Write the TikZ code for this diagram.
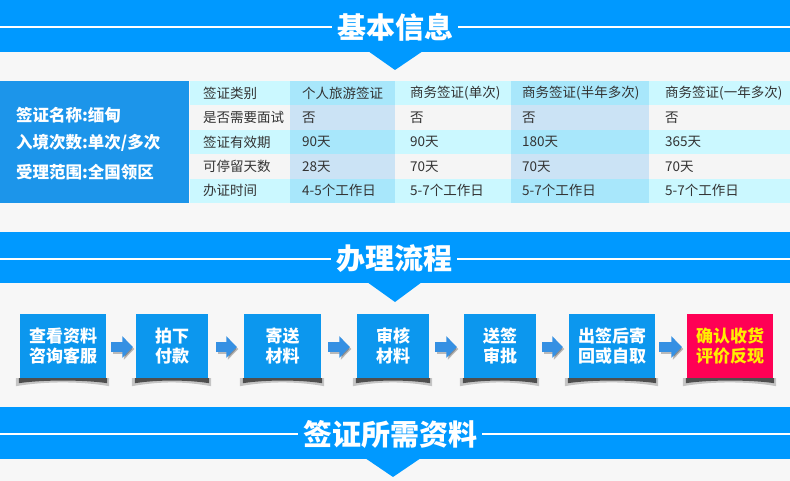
\documentclass[tikz,border=0pt]{standalone}
\usepackage{fontspec}
\setmainfont{Noto Sans CJK SC}
\usetikzlibrary{arrows.meta}
\definecolor{bg}{HTML}{F7F7F7}
\definecolor{banner}{HTML}{0099FF}
\definecolor{panel}{HTML}{1C95EA}
\definecolor{rowcyan}{HTML}{CBF8FF}
\definecolor{rowcyanhl}{HTML}{A8E7FB}
\definecolor{rowgray}{HTML}{F5F5F5}
\definecolor{rowgrayhl}{HTML}{CBE3F5}
\definecolor{boxblue}{HTML}{0C97EE}
\definecolor{boxred}{HTML}{FF0055}
\definecolor{txtyellow}{HTML}{FFEE00}
\definecolor{arrowblue}{HTML}{3590E3}
\definecolor{txtgray}{HTML}{333333}
\tikzset{
  titlenode/.style={fill=banner, text=white, inner xsep=5pt, inner ysep=1pt,
    font=\fontsize{29}{29}\selectfont\bfseries},
  whiteline/.style={white, line width=2pt},
  cell/.style={anchor=west, inner sep=0pt, text=txtgray, font=\fontsize{13.5}{14}\selectfont},
  paneltext/.style={anchor=west, inner sep=0pt, text=white, font=\fontsize{16.5}{17}\selectfont\bfseries},
  pbox/.style={fill=boxblue, text=white, align=center, inner sep=0pt, minimum height=64pt,
    font=\fontsize{17}{20}\selectfont\bfseries},
  redbox/.style={pbox, fill=boxred, text=txtyellow},
  flow/.style={arrowblue, line width=9.5pt, -{Triangle[length=10.5pt,width=21pt]}},
  flowshadow/.style={black, opacity=0.25, line width=9.5pt, -{Triangle[length=10.5pt,width=21pt]},
    transform canvas={xshift=1.5pt,yshift=-2pt}},
}
\begin{document}
\begin{tikzpicture}[x=1pt,y=-1pt]
\fill[bg] (0,0) rectangle (790,481);
\useasboundingbox (0,0) rectangle (790,481);

% ---------- banner 1 ----------
\fill[banner] (0,0) rectangle (790,52);
\fill[banner] (368,51) -- (423,51) -- (395,70) -- cycle;
\draw[whiteline] (0,26.7) -- (790,26.7);
\node[titlenode] (t1) at (395,27) {基本信息};

% ---------- left panel ----------
\fill[panel] (0,81) rectangle (189,203);
\node[paneltext] (p1) at (16,115) {签证名称:缅甸};
\node[paneltext] (p2) at (16,143) {入境次数:单次/多次};
\node[paneltext] (p3) at (16,172) {受理范围:全国领区};

% ---------- table ----------
\foreach \k in {0,2,4} {
  \fill[rowcyan] (190,{81+24.4*\k}) rectangle (790,{81+24.4*(\k+1)});
  \fill[rowcyanhl] (290,{81+24.4*\k}) rectangle (395,{81+24.4*(\k+1)});
  \fill[rowcyanhl] (511,{81+24.4*\k}) rectangle (649,{81+24.4*(\k+1)});
}
\foreach \k in {1,3} {
  \fill[rowgray] (190,{81+24.4*\k}) rectangle (790,{81+24.4*(\k+1)});
  \fill[rowgrayhl] (290,{81+24.4*\k}) rectangle (395,{81+24.4*(\k+1)});
  \fill[rowgrayhl] (511,{81+24.4*\k}) rectangle (649,{81+24.4*(\k+1)});
}
\foreach \k/\a/\b/\c/\d/\e in {
  0/签证类别/个人旅游签证/商务签证(单次)/商务签证(半年多次)/商务签证(一年多次),
  1/是否需要面试/否/否/否/否,
  2/签证有效期/90天/90天/180天/365天,
  3/可停留天数/28天/70天/70天/70天,
  4/办证时间/4-5个工作日/5-7个工作日/5-7个工作日/5-7个工作日} {
  \node[cell] (c\k-1) at (203,{93.2+24.4*\k}) {\a};
  \node[cell] (c\k-2) at (302,{93.2+24.4*\k}) {\b};
  \node[cell] (c\k-3) at (410,{93.2+24.4*\k}) {\c};
  \node[cell] (c\k-4) at (522,{93.2+24.4*\k}) {\d};
  \node[cell] (c\k-5) at (665,{93.2+24.4*\k}) {\e};
}

% ---------- banner 2 ----------
\fill[banner] (0,232) rectangle (790,283);
\fill[banner] (367,282) -- (422,282) -- (395,302) -- cycle;
\draw[whiteline] (0,259) -- (790,259);
\node[titlenode] (t2) at (394,259) {办理流程};

% ---------- process ----------
\node[pbox, minimum width=86pt] (b1) at (63,346) {查看资料\\咨询客服};
\node[pbox, minimum width=72pt] (b2) at (172,346) {拍下\\付款};
\node[pbox, minimum width=77pt] (b3) at (282.5,346) {寄送\\材料};
\node[pbox, minimum width=72pt] (b4) at (393,346) {审核\\材料};
\node[pbox, minimum width=72pt] (b5) at (500,346) {送签\\审批};
\node[pbox, minimum width=86pt] (b6) at (612,346) {出签后寄\\回或自取};
\node[redbox, minimum width=86pt] (b7) at (730,346) {确认收货\\评价反现};

\foreach \b in {b1,b2,b3,b4,b5,b6,b7} {
  \fill[black, opacity=0.2] ([xshift=-4pt]\b.south west) -- ([xshift=3pt]\b.south east)
    -- ([xshift=3pt,yshift=-8pt]\b.south east)
    .. controls ([xshift=-25pt,yshift=-3pt]\b.south east) and ([xshift=25pt,yshift=-3pt]\b.south west)
    .. ([xshift=-4pt,yshift=-8pt]\b.south west) -- cycle;
  \fill[black, opacity=0.6] ([xshift=-1pt]\b.south west) -- ([xshift=1pt]\b.south east)
    -- ([xshift=1pt,yshift=-5pt]\b.south east)
    .. controls ([xshift=-22pt,yshift=-1.5pt]\b.south east) and ([xshift=22pt,yshift=-1.5pt]\b.south west)
    .. ([xshift=-1pt,yshift=-5pt]\b.south west) -- cycle;
}

\foreach \s/\t/\p/\q in {b1/b2/5/3, b2/b3/8/7, b3/b4/7/7, b4/b5/6/7, b5/b6/6/6, b6/b7/4/5} {
  \draw[flowshadow, shorten <=\p pt, shorten >=\q pt] ([yshift=-1pt]\s.east) -- ([yshift=-1pt]\t.west);
  \draw[flow, shorten <=\p pt, shorten >=\q pt] ([yshift=-1pt]\s.east) -- ([yshift=-1pt]\t.west);
}

% ---------- banner 3 ----------
\fill[banner] (0,407) rectangle (790,459);
\fill[banner] (365,458) -- (421,458) -- (393,477) -- cycle;
\draw[whiteline] (0,434) -- (790,434);
\node[titlenode] (t3) at (390,434) {签证所需资料};
\end{tikzpicture}
\end{document}
